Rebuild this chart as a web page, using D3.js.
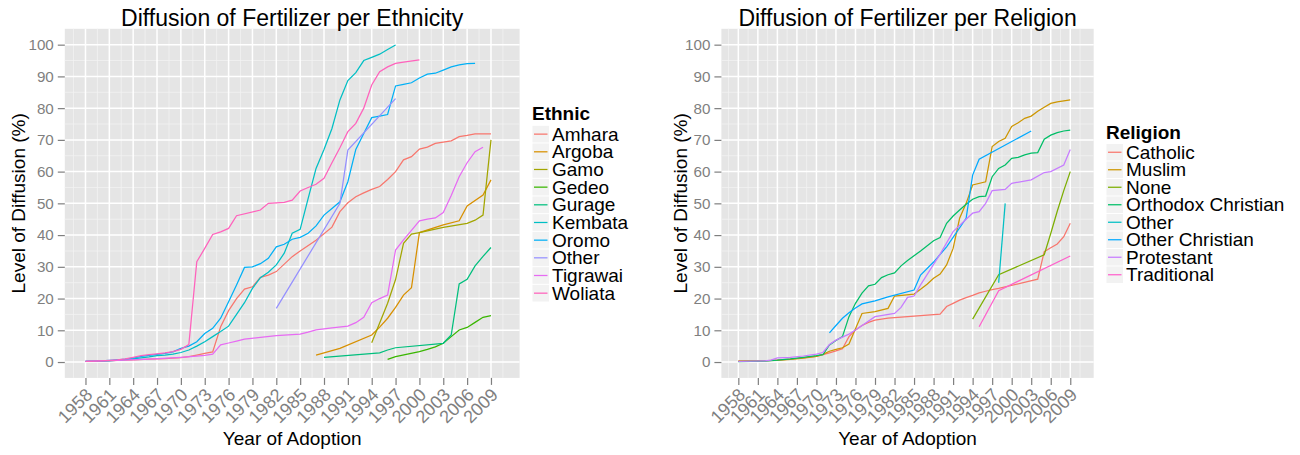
<!DOCTYPE html>
<html>
<head>
<meta charset="utf-8">
<script src="https://cdn.jsdelivr.net/npm/d3@7"></script>
<style>
  body { margin: 0; background: #fff; }
  svg { font-family: "Liberation Sans", Arial, sans-serif; }
</style>
</head>
<body>
<svg id="chart" width="1300" height="455"></svg>
<script>
// ---- data ----
const yTicks = [0, 10, 20, 30, 40, 50, 60, 70, 80, 90, 100];
const xTicks = [1958, 1961, 1964, 1967, 1970, 1973, 1976, 1979, 1982, 1985, 1988, 1991, 1994, 1997, 2000, 2003, 2006, 2009];

const ethnicNames = ["Amhara", "Argoba", "Gamo", "Gedeo", "Gurage", "Kembata", "Oromo", "Other", "Tigrawai", "Woliata"];
const ethnicColors = ["#F8766D", "#D89000", "#A3A500", "#39B600", "#00BF7D", "#00BFC4", "#00B0F6", "#9590FF", "#E76BF3", "#FF62BC"];

const amhara = [[1958,0.2],[1960,0.3],[1962,0.5],[1964,0.7],[1966,0.9],[1968,1.1],[1970,1.4],[1971,1.7],[1972,2.2],[1973,2.7],[1974,3.2],[1975,11.1],[1976,16.2],[1977,20],[1978,23],[1979,23.7],[1980,26.7],[1981,27.4],[1982,28.5],[1984,33.2],[1985,35],[1987,38.4],[1989,42.5],[1990,47.4],[1991,50.2],[1992,52.1],[1993,53.3],[1994,54.4],[1995,55.3],[1996,57.5],[1997,60],[1998,63.7],[1999,64.7],[2000,67.1],[2001,67.7],[2002,68.9],[2003,69.3],[2004,69.7],[2005,71],[2006,71.4],[2007,71.9],[2009,71.9]];
const argoba = [[1987,2.2],[1990,4.3],[1994,8.5],[1995,11],[1996,13.8],[1997,17.2],[1998,21.1],[1999,23.4],[2000,40.8],[2003,43.2],[2005,44.5],[2006,49.2],[2008,52.6],[2009,57.4]];
const gamo = [[1994,6.1],[1996,18.5],[1997,26],[1998,37.4],[1999,40.3],[2000,40.8],[2003,42.4],[2006,43.7],[2007,44.7],[2008,46.3],[2009,70]];
const gedeo = [[1996,0.85],[1997,1.7],[2000,3.3],[2001,4],[2002,4.8],[2003,5.9],[2004,8],[2005,10.1],[2006,10.9],[2007,12.5],[2008,14.1],[2009,14.6]];
const gurage = [[1988,1.5],[1995,2.9],[1996,3.8],[1997,4.5],[2003,5.9],[2004,8.5],[2005,24.6],[2006,26.1],[2007,30.3],[2008,33.3],[2009,36.1]];
const kembata = [[1958,0.2],[1961,0.4],[1964,1],[1965,1.3],[1966,1.6],[1967,2],[1968,2.2],[1969,2.5],[1970,3],[1971,3.8],[1972,5],[1973,6.4],[1974,8],[1975,9.6],[1976,11.3],[1977,15],[1978,18.7],[1979,23.2],[1980,26.6],[1981,28.3],[1982,30.6],[1983,34.3],[1984,40.6],[1985,41.8],[1986,51.5],[1987,61],[1988,67],[1989,73.6],[1990,82.6],[1991,88.7],[1992,91.2],[1993,95],[1994,96],[1995,97],[1996,98.5],[1997,99.9]];
const oromo = [[1958,0.2],[1960,0.4],[1962,0.7],[1963,0.9],[1964,1.2],[1965,1.8],[1966,2.1],[1967,2.4],[1968,2.7],[1969,3.2],[1970,4.3],[1971,5],[1972,6.4],[1973,9],[1974,10.6],[1975,13.8],[1976,19],[1977,24.3],[1978,29.8],[1979,30],[1980,31],[1981,32.7],[1982,36.3],[1983,37.1],[1984,38.7],[1985,39.3],[1986,40.6],[1987,42.9],[1988,46.3],[1989,48.4],[1990,50.5],[1991,56.8],[1992,67],[1993,72],[1994,77],[1995,77.5],[1996,78],[1997,87],[1998,87.5],[1999,88],[2000,89.5],[2001,90.7],[2002,91],[2003,92],[2004,93],[2005,93.6],[2006,94],[2007,94.1]];
const otherEthnic = [[1982,16.9],[1990,50],[1991,66.8],[1997,83]];
const tigrawai = [[1958,0.2],[1962,0.5],[1966,0.9],[1970,1.5],[1972,1.9],[1973,2.1],[1974,2.5],[1975,5.4],[1976,6],[1977,6.6],[1978,7.2],[1980,7.8],[1982,8.3],[1985,8.8],[1986,9.4],[1987,10.1],[1989,10.8],[1991,11.3],[1992,12.4],[1993,14.1],[1994,18.7],[1995,20],[1996,21.1],[1997,35.3],[1998,38.5],[1999,41.5],[2000,44.5],[2001,45],[2002,45.4],[2003,47.1],[2004,52.5],[2005,58.4],[2006,62.8],[2007,66.3],[2008,67.7]];
const woliata = [[1958,0.2],[1960,0.4],[1962,0.7],[1963,1],[1964,1.5],[1965,2],[1966,2.3],[1967,2.6],[1968,2.9],[1969,3.3],[1970,4],[1971,5.5],[1972,31.6],[1973,35.8],[1974,40.2],[1975,41],[1976,42.1],[1977,46.1],[1980,47.9],[1981,50],[1983,50.3],[1984,51],[1985,53.9],[1986,55],[1987,56],[1988,57.9],[1989,62.8],[1990,67.5],[1991,72.6],[1992,75.2],[1993,80],[1994,87.3],[1995,91.5],[1996,93],[1997,94.1],[1998,94.5],[2000,95.2]];
const ethnicSeries = [amhara, argoba, gamo, gedeo, gurage, kembata, oromo, otherEthnic, tigrawai, woliata];

const religionNames = ["Catholic", "Muslim", "None", "Orthodox Christian", "Other", "Other Christian", "Protestant", "Traditional"];
const religionColors = ["#F8766D", "#CD9600", "#7CAE00", "#00BE67", "#00BFC4", "#00A9FF", "#C77CFF", "#FF61CC"];

const catholic = [[1958,0.2],[1962,0.4],[1966,0.9],[1970,1.8],[1971,2.3],[1972,2.9],[1973,3.5],[1974,4.2],[1975,8],[1976,10.1],[1977,11.5],[1978,12.5],[1979,13.2],[1980,13.5],[1981,13.8],[1982,14],[1989,15.1],[1990,17.5],[1991,18.5],[1992,19.5],[1993,20.3],[1994,21],[1995,21.8],[1996,22.3],[1997,22.8],[1998,23.2],[2004,26.1],[2005,34.8],[2006,36],[2007,37.2],[2008,39.5],[2009,43.7]];
const muslim = [[1958,0.4],[1964,0.5],[1966,0.8],[1968,1.2],[1970,1.8],[1971,2.4],[1972,3.4],[1973,4],[1974,4.5],[1975,5.7],[1977,15.3],[1979,15.9],[1981,16.9],[1982,20.8],[1985,21.4],[1986,22.9],[1987,24.5],[1988,26.4],[1989,27.7],[1990,30.6],[1991,35.8],[1992,45.3],[1993,50],[1994,55.8],[1996,56.8],[1997,67.9],[1998,69.5],[1999,70.5],[2000,74.2],[2001,75.4],[2002,76.8],[2003,77.5],[2004,79],[2005,80.3],[2006,81.5],[2007,82],[2009,82.6]];
const noneRel = [[1994,13.5],[1998,27.5],[2005,33.8],[2006,40.5],[2007,47.5],[2008,54],[2009,60]];
const orthodox = [[1958,0.1],[1962,0.3],[1964,0.6],[1966,1],[1968,1.5],[1970,2],[1971,2.3],[1972,5.4],[1973,6.8],[1974,8],[1975,14.3],[1976,18.5],[1977,21.7],[1978,24],[1979,24.5],[1980,26.6],[1981,27.5],[1982,28.1],[1983,30.3],[1984,32],[1986,35],[1988,38.2],[1989,39.2],[1990,43.7],[1991,46],[1992,47.9],[1993,49.7],[1994,51.3],[1995,52.1],[1996,52.3],[1997,58.4],[1998,61],[1999,62.1],[2000,64.2],[2001,64.5],[2002,65.3],[2003,65.8],[2004,66],[2005,70.2],[2006,71.5],[2007,72.3],[2008,72.8],[2009,73.1]];
const otherRel = [[1998,25],[1999,50]];
const otherChristian = [[1972,9.2],[1973,11.5],[1974,13.8],[1975,15.5],[1976,17],[1977,18.3],[1979,19.3],[1981,20.5],[1985,22.7],[1986,27.4],[1988,31.5],[1990,36.3],[1993,45.3],[1994,58.9],[1995,63.9],[2003,72.8]];
const protestant = [[1958,0.2],[1962,0.4],[1963,0.6],[1964,1.3],[1966,1.5],[1968,1.9],[1970,2.5],[1971,3],[1972,5.5],[1973,6.9],[1975,8.8],[1976,10.1],[1979,14.3],[1982,15.3],[1983,17.2],[1984,20.4],[1985,20.8],[1986,24.3],[1989,34],[1991,41.1],[1993,45],[1994,46.9],[1995,47.4],[1996,50],[1997,54],[1999,54.4],[2000,56.3],[2003,57.4],[2005,59.7],[2006,60],[2008,62.1],[2009,67]];
const traditional = [[1995,11.1],[1998,22.5],[2009,33.4]];
const religionSeries = [catholic, muslim, noneRel, orthodox, otherRel, otherChristian, protestant, traditional];

// ---- drawing ----
const svg = d3.select("#chart");
const panelTop = 28.8, panelBottom = 377.9;
const grey50 = "#7F7F7F";

function drawPanel(opts){
    const x = d3.scaleLinear().domain([1958 - 2.6, 2010 + 2.6]).range([opts.left, opts.right]);
    const y = d3.scaleLinear().domain([-5, 105]).range([panelBottom, panelTop]);
    const g = svg.append("g");

    g.append("rect")
        .attr("x", opts.left).attr("y", panelTop)
        .attr("width", opts.right - opts.left).attr("height", panelBottom - panelTop)
        .attr("fill", "#E5E5E5");

    // minor grid
    const xMinor = d3.range(1956.5, 2012.6, 3);
    const yMinor = d3.range(5, 100, 10);
    g.selectAll(".xminor").data(xMinor).join("line")
        .attr("x1", d => x(d)).attr("x2", d => x(d))
        .attr("y1", panelTop).attr("y2", panelBottom)
        .attr("stroke", "#F2F2F2").attr("stroke-width", 0.8);
    g.selectAll(".yminor").data(yMinor).join("line")
        .attr("x1", opts.left).attr("x2", opts.right)
        .attr("y1", d => y(d)).attr("y2", d => y(d))
        .attr("stroke", "#F2F2F2").attr("stroke-width", 0.8);
    // major grid
    g.selectAll(".xmajor").data(xTicks).join("line")
        .attr("x1", d => x(d)).attr("x2", d => x(d))
        .attr("y1", panelTop).attr("y2", panelBottom)
        .attr("stroke", "#fff").attr("stroke-width", 1.5);
    g.selectAll(".ymajor").data(yTicks).join("line")
        .attr("x1", opts.left).attr("x2", opts.right)
        .attr("y1", d => y(d)).attr("y2", d => y(d))
        .attr("stroke", "#fff").attr("stroke-width", 1.5);

    // series
    const line = d3.line().x(d => x(d[0])).y(d => y(d[1]));
    opts.series.forEach((s, i) => {
        g.append("path")
            .datum(s)
            .attr("d", line)
            .attr("fill", "none")
            .attr("stroke", opts.colors[i])
            .attr("stroke-width", 1.25);
    });

    // y axis
    const yAxis = g.append("g")
        .attr("transform", `translate(${opts.left},0)`)
        .call(d3.axisLeft(y).tickValues(yTicks).tickSize(7).tickPadding(4));
    yAxis.select(".domain").remove();
    yAxis.selectAll("line").attr("stroke", grey50).attr("stroke-width", 1.2);
    yAxis.selectAll("text").attr("fill", grey50).attr("font-size", 15.2)
        .attr("font-family", "Liberation Sans, Arial, sans-serif");

    // x axis, labels turned 45 degrees
    const xAxis = g.append("g")
        .attr("transform", `translate(0,${panelBottom})`)
        .call(d3.axisBottom(x).tickValues(xTicks).tickFormat(d3.format("d")).tickSize(7));
    xAxis.select(".domain").remove();
    xAxis.selectAll("line").attr("stroke", grey50).attr("stroke-width", 1.2);
    xAxis.selectAll("text")
        .attr("fill", grey50).attr("font-size", 18)
        .attr("font-family", "Liberation Sans, Arial, sans-serif")
        .attr("text-anchor", "end")
        .attr("y", 0).attr("dy", "0.71em")
        .attr("transform", "translate(-1.5,9) rotate(-45)");

    // titles
    const cx = (opts.left + opts.right) / 2;
    g.append("text").attr("x", cx).attr("y", 26)
        .attr("text-anchor", "middle").attr("font-size", 23)
        .text(opts.title);
    g.append("text").attr("x", cx).attr("y", 445)
        .attr("text-anchor", "middle").attr("font-size", 19)
        .text("Year of Adoption");
    g.append("text")
        .attr("transform", `translate(${opts.yTitleX},${(panelTop + panelBottom) / 2}) rotate(-90)`)
        .attr("text-anchor", "middle").attr("font-size", 19)
        .text("Level of Diffusion (%)");

    // legend
    const lg = g.append("g").attr("transform", `translate(${opts.legendX},${opts.legendY})`);
    lg.append("text").attr("x", 0).attr("y", 0)
        .attr("font-size", 19).attr("font-weight", "bold")
        .text(opts.legendTitle);
    const keyH = opts.keyH, keyTop = 5;
    opts.names.forEach((name, i) => {
        const ky = keyTop + i * keyH;
        lg.append("rect").attr("x", 0.5).attr("y", ky + 0.5)
            .attr("width", 16.5).attr("height", keyH - 1)
            .attr("fill", "#F2F2F2");
        lg.append("line").attr("x1", 2).attr("x2", 15.5)
            .attr("y1", ky + keyH / 2).attr("y2", ky + keyH / 2)
            .attr("stroke", opts.colors[i]).attr("stroke-width", 1.25);
        lg.append("text").attr("x", 20).attr("y", ky + keyH / 2 + 6.5)
            .attr("font-size", 19).text(name);
    });
}

drawPanel({
    left: 64.8, right: 519.6,
    title: "Diffusion of Fertilizer per Ethnicity",
    series: ethnicSeries, colors: ethnicColors, names: ethnicNames,
    legendTitle: "Ethnic", legendX: 532, legendY: 120.3, keyH: 17.67,
    yTitleX: 25
});

drawPanel({
    left: 721.4, right: 1093.7,
    title: "Diffusion of Fertilizer per Religion",
    series: religionSeries, colors: religionColors, names: religionNames,
    legendTitle: "Religion", legendX: 1106, legendY: 138.5, keyH: 17.5,
    yTitleX: 687
});
</script>
</body>
</html>
